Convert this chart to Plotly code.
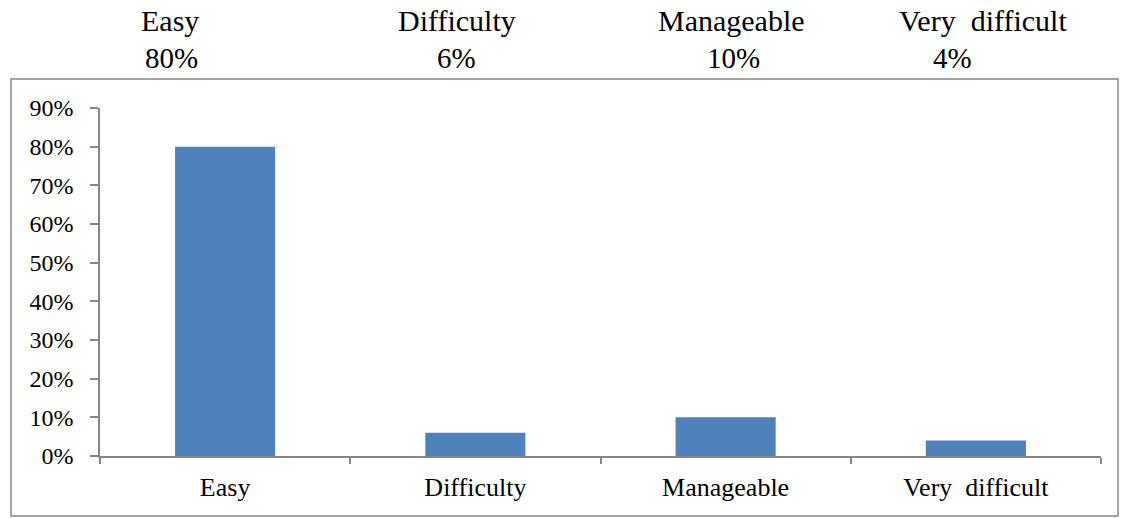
import plotly.graph_objects as go

CATEGORIES = ["Easy", "Difficulty", "Manageable", "Very  difficult"]
VALUES = [0.80, 0.06, 0.10, 0.04]
HEADER_LABELS = ["Easy", "Difficulty", "Manageable", "Very  difficult"]
HEADER_PCTS = ["80%", "6%", "10%", "4%"]
Y_TICKS = [i / 10 for i in range(10)]
Y_TICK_TEXT = [f"{i * 10}%" for i in range(10)]

W, H = 1121, 518
L, R, T, B = 100, 20, 108, 62
PW, PH = W - L - R, H - T - B


def px_x(px):
    return (px - L) / PW


def px_y(py):
    return (H - B - py) / PH


FONT = "Liberation Serif"
GRAY = "#878787"

fig = go.Figure(
    go.Bar(
        x=CATEGORIES,
        y=VALUES,
        marker=dict(color="#4F81BD", line=dict(width=0)),
        width=0.4,
    )
)

fig.update_layout(
    width=W,
    height=H,
    margin=dict(l=L, r=R, t=T, b=B),
    plot_bgcolor="white",
    paper_bgcolor="white",
    showlegend=False,
    font=dict(family=FONT, size=24, color="black"),
)
fig.update_yaxes(
    range=[0, 0.9],
    tickvals=Y_TICKS,
    ticktext=Y_TICK_TEXT,
    showgrid=False,
    zeroline=False,
    showline=True,
    linecolor=GRAY,
    linewidth=1.5,
    ticks="outside",
    ticklen=8,
    tickcolor=GRAY,
    tickwidth=1.5,
    tickfont=dict(family=FONT, size=24),
    ticklabelstandoff=12,
)
fig.update_xaxes(
    showgrid=False,
    showline=True,
    linecolor=GRAY,
    linewidth=1.5,
    ticks="outside",
    tickson="boundaries",
    ticklen=6,
    tickcolor=GRAY,
    tickwidth=1.5,
    tickfont=dict(family=FONT, size=26),
    ticklabelstandoff=7,
)

# outer border around the chart
fig.add_shape(
    type="rect",
    xref="paper", yref="paper",
    x0=px_x(11), x1=px_x(1118), y0=px_y(516), y1=px_y(79),
    line=dict(color=GRAY, width=1.5),
    fillcolor="rgba(0,0,0,0)",
    layer="below",
)

# header row above the chart
header_x = [170, 457, 731, 983]
pct_x = [171, 456, 733, 952]
for hx, lab in zip(header_x, HEADER_LABELS):
    fig.add_annotation(
        x=px_x(hx), y=px_y(20), xref="paper", yref="paper",
        text=lab, showarrow=False, font=dict(family=FONT, size=30),
        xanchor="center", yanchor="middle",
    )
for hx, lab in zip(pct_x, HEADER_PCTS):
    fig.add_annotation(
        x=px_x(hx), y=px_y(58), xref="paper", yref="paper",
        text=lab, showarrow=False, font=dict(family=FONT, size=29),
        xanchor="center", yanchor="middle",
    )

fig.write_html("out.html", config={"displayModeBar": False})

# drop the default page margin so the figure sits at the window corner
with open("out.html", encoding="utf-8") as f:
    html = f.read()
html = html.replace("<body>", '<body style="margin:0">', 1)
with open("out.html", "w", encoding="utf-8") as f:
    f.write(html)
